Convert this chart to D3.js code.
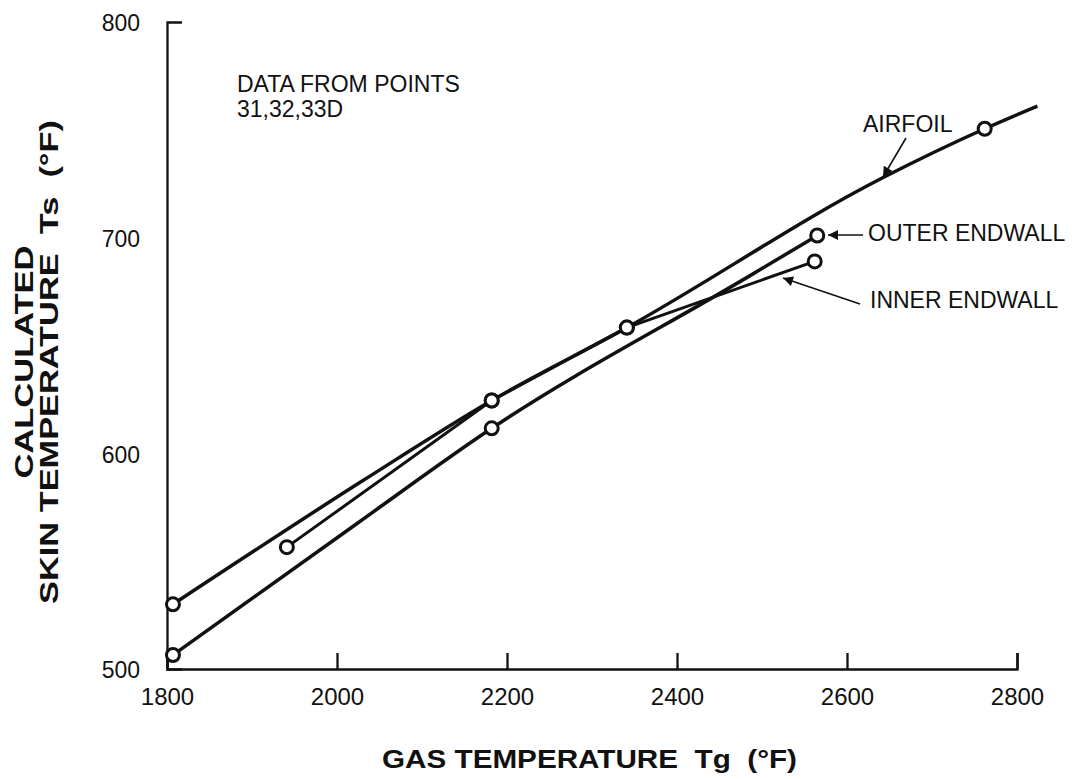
<!DOCTYPE html>
<html>
<head>
<meta charset="utf-8">
<script src="https://cdn.jsdelivr.net/npm/d3@7"></script>
<style>
  body { margin: 0; background: #fff; }
  text { font-family: "Liberation Sans", Arial, Helvetica, sans-serif; fill: #111; }
</style>
</head>
<body>
<div id="container"></div>
<script>
// values (gas temp F, skin temp F)
const airfoilGas   = [1807, 2031, 2182, 2341, 2642, 2762, 2824]
const airfoilSkin  = [530, 587.5, 624.5, 658.3, 727.8, 750.5, 761]
const airfoilMarks = [1807, 2182, 2341, 2762]

const outerGas   = [1807, 2024, 2182, 2486, 2565]
const outerSkin  = [506.5, 567.6, 611.6, 682.4, 701]
const outerMarks = [1807, 2182, 2565]

const innerGas   = [1941, 2182, 2341, 2562]
const innerSkin  = [556.5, 624.5, 658.3, 689]

const xTicks = [1800, 2000, 2200, 2400, 2600, 2800]
const yTicks = [500, 600, 700, 800]

const width = 1082, height = 779

const svg = d3.select('#container')
    .append('svg').attr('width', width).attr('height', height)

const x = d3.scaleLinear().domain([1800, 2800]).range([167, 1017])
const y = d3.scaleLinear().domain([500, 800]).range([669, 22])

// axes
const xAxis = svg.append('g')
    .attr('transform', `translate(0,${y(500)})`)
    .call(d3.axisBottom(x).tickValues(xTicks).tickFormat(d3.format('d'))
        .tickSizeInner(-16).tickSizeOuter(-16).tickPadding(36))
xAxis.selectAll('text').attr('font-size', 24).attr('dy', '0').attr('y', 36)

const yAxis = svg.append('g')
    .attr('transform', `translate(${x(1800)},0)`)
    .call(d3.axisLeft(y).tickValues(yTicks).tickFormat(d3.format('d'))
        .tickSizeInner(0).tickSizeOuter(-15).tickPadding(27))
yAxis.selectAll('text').attr('font-size', 23).attr('dy', '0.38em')

svg.selectAll('.domain, .tick line').attr('stroke', '#111').attr('stroke-width', 2.3)
svg.selectAll('.tick text').attr('fill', '#111').attr('font-family', '"Liberation Sans", Arial, sans-serif')

// curves
const toPts = (gx, sy) => gx.map((g, i) => [g, sy[i]])
const smooth = d3.line().x(d => x(d[0])).y(d => y(d[1])).curve(d3.curveMonotoneX)
const straight = d3.line().x(d => x(d[0])).y(d => y(d[1]))

const airfoil = toPts(airfoilGas, airfoilSkin)
const outer = toPts(outerGas, outerSkin)
const inner = toPts(innerGas, innerSkin)

svg.append('path').attr('d', smooth(airfoil))
    .attr('fill', 'none').attr('stroke', '#111').attr('stroke-width', 3.5)
svg.append('path').attr('d', smooth(outer))
    .attr('fill', 'none').attr('stroke', '#111').attr('stroke-width', 3.5)
svg.append('path').attr('d', straight(inner))
    .attr('fill', 'none').attr('stroke', '#111').attr('stroke-width', 3)

// circle markers
const marks = []
airfoil.forEach(d => { if (airfoilMarks.includes(d[0])) marks.push(d) })
outer.forEach(d => { if (outerMarks.includes(d[0])) marks.push(d) })
inner.forEach(d => marks.push(d))

svg.selectAll('.mark')
    .data(marks)
    .enter()
    .append('circle')
    .attr('class', 'mark')
    .attr('cx', d => x(d[0]))
    .attr('cy', d => y(d[1]))
    .attr('r', 6.5)
    .attr('fill', '#fff')
    .attr('stroke', '#111')
    .attr('stroke-width', 3)

// arrow head
svg.append('defs').append('marker')
    .attr('id', 'head')
    .attr('viewBox', '0 0 10 10')
    .attr('refX', 10).attr('refY', 5)
    .attr('markerWidth', 16).attr('markerHeight', 10)
    .attr('markerUnits', 'userSpaceOnUse')
    .attr('orient', 'auto')
    .append('path').attr('d', 'M0,0L10,5L0,10Z').attr('fill', '#111')

const arrow = (x1, y1, x2, y2) => svg.append('line')
    .attr('x1', x1).attr('y1', y1).attr('x2', x2).attr('y2', y2)
    .attr('stroke', '#111').attr('stroke-width', 1.6)
    .attr('marker-end', 'url(#head)')

arrow(906, 138, 883, 177)
arrow(863, 235, 828, 235)
arrow(860, 304, 783, 278)

// annotations
const note = (tx, ty, str, size) => svg.append('text')
    .attr('x', tx).attr('y', ty).attr('font-size', size).text(str)

note(237, 92, 'DATA FROM POINTS', 23)
note(237, 117, '31,32,33D', 23)
note(863, 132, 'AIRFOIL', 23)
note(868, 241, 'OUTER ENDWALL', 23)
note(870, 308, 'INNER ENDWALL', 23)

// axis titles, glyphs are wide in the original so stretch to measured length
svg.append('text')
    .attr('x', 382).attr('y', 768)
    .attr('font-size', 26).attr('font-weight', 'bold')
    .attr('textLength', 415).attr('lengthAdjust', 'spacingAndGlyphs')
    .style('white-space', 'pre')
    .text('GAS TEMPERATURE  Tg  (°F)')

const yt = svg.append('text')
    .attr('transform', 'translate(0,362) rotate(-90)')
    .attr('text-anchor', 'middle')
    .attr('font-size', 25).attr('font-weight', 'bold')
    .style('white-space', 'pre')
yt.append('tspan').attr('x', 0).attr('y', 33)
    .attr('textLength', 233).attr('lengthAdjust', 'spacingAndGlyphs')
    .text('CALCULATED')
yt.append('tspan').attr('x', 0).attr('y', 58)
    .attr('textLength', 484).attr('lengthAdjust', 'spacingAndGlyphs')
    .text('SKIN TEMPERATURE  Ts  (°F)')
</script>
</body>
</html>
